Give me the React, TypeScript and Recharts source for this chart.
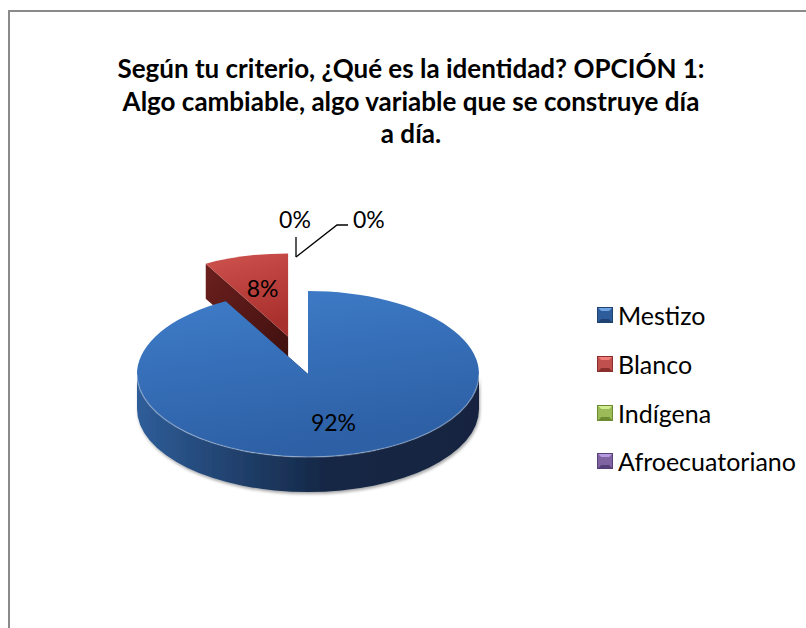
import { PieChart, Pie, Cell, Legend } from 'recharts';

const categories = ['Mestizo', 'Blanco', 'Indígena', 'Afroecuatoriano'];
const shares = [92, 8, 0, 0];
const titleLines = [
  'Según tu criterio, ¿Qué es la identidad? OPCIÓN 1:',
  'Algo cambiable, algo variable que se construye día',
  'a día.',
];

// office 2007 colours, top face / wall / cut face / legend marker
const palette = [
  { base: '#3b72bc', top1: '#3f7dca', top2: '#2d60a5', side1: '#2f5d99', side2: '#132440', cut1: '#264a7c', cut2: '#142745', mk1: '#6fa3e2', mk2: '#2d5c9a', mk3: '#1f4270' },
  { base: '#c0504d', top1: '#cf524e', top2: '#a8302d', side1: '#8a2a27', side2: '#3e0f0e', cut1: '#6c201e', cut2: '#3c0f0e', mk1: '#f07d79', mk2: '#c0504d', mk3: '#8a2f2c' },
  { base: '#9bbb59', top1: '#a6c866', top2: '#84a444', side1: '#6f8a39', side2: '#39481c', cut1: '#5d7530', cut2: '#34421a', mk1: '#d2ec92', mk2: '#9bbb59', mk3: '#6c8a30' },
  { base: '#8064a2', top1: '#8d71b0', top2: '#6a4e8c', side1: '#5c4679', side2: '#2c2140', cut1: '#4d3a66', cut2: '#2a1f3c', mk1: '#b79be0', mk2: '#8064a2', mk3: '#57407a' },
];

// drawn back to front: the small exploded slice goes first so Mestizo covers it
const data = categories.map((name, i) => ({ name, value: shares[i], idx: i })).reverse();

const CX = 308;
const CY = 374;
const R = 171;
const TILT = 83 / 171;
const DEPTH = 35;
const EXPLODED = 1; // Blanco
const EXPLODE_PX = 80;
const RAD = Math.PI / 180;
const FONT = 'Lato, "Open Sans", sans-serif';

function Slice3D(props: any) {
  const { cx, cy, outerRadius, startAngle, endAngle, midAngle } = props;
  const idx = props.payload?.idx ?? props.idx ?? 0;
  const hi = Math.max(startAngle, endAngle);
  const lo = Math.min(startAngle, endAngle);
  if (hi - lo < 0.01) return <g />;
  const rx = outerRadius;
  const ry = outerRadius * TILT;
  const off = idx === EXPLODED ? EXPLODE_PX : 0;
  const ox = cx + off * Math.cos(midAngle * RAD);
  const oy = cy - off * TILT * Math.sin(midAngle * RAD);
  const p = (a: number) => [ox + rx * Math.cos(a * RAD), oy - ry * Math.sin(a * RAD)];

  const [sx, sy] = p(hi);
  const [ex, ey] = p(lo);
  const top = `M${ox},${oy} L${sx},${sy} A${rx},${ry} 0 ${hi - lo > 180 ? 1 : 0} 1 ${ex},${ey} Z`;

  const walls: string[] = [];
  const rims: string[] = [];
  for (let k = -2; k <= 2; k++) {
    const a1 = Math.min(hi, 360 * k);
    const a2 = Math.max(lo, 360 * k - 180);
    if (a1 - a2 > 0.01) {
      const [x1, y1] = p(a1);
      const [x2, y2] = p(a2);
      walls.push(
        `M${x1},${y1} A${rx},${ry} 0 0 1 ${x2},${y2} L${x2},${y2 + DEPTH} A${rx},${ry} 0 0 0 ${x1},${y1 + DEPTH} Z`
      );
      rims.push(`M${x1},${y1} A${rx},${ry} 0 0 1 ${x2},${y2}`);
    }
  }
  const cut = (a: number) => {
    const [x, y] = p(a);
    return `M${ox},${oy} L${x},${y} L${x},${y + DEPTH} L${ox},${oy + DEPTH} Z`;
  };

  return (
    <g>
      <path d={cut(hi)} fill={`url(#cut-${idx})`} />
      <path d={cut(lo)} fill={`url(#cut-${idx})`} />
      {walls.map((d, i) => (
        <path key={i} d={d} fill={`url(#side-${idx})`} filter="url(#wallShadow)" />
      ))}
      <path d={top} fill={`url(#top-${idx})`} />
      {rims.map((d, i) => (
        <path key={i} d={d} fill="none" stroke="rgba(255,255,255,0.28)" strokeWidth={1.5} />
      ))}
    </g>
  );
}

// offsets of the two 0% callouts from the slice anchor at 12 o'clock
const zeroCallouts = [
  { line: [[-12, -34], [-12, -54]], text: [-13, -72], anchor: 'middle' },
  { line: [[-12, -34], [29, -66], [40, -66]], text: [45, -72], anchor: 'start' },
];

function SliceLabel(props: any) {
  const { cx, cy, midAngle, outerRadius, percent, index } = props;
  const idx = props.payload?.idx ?? 0;
  const rx = outerRadius;
  const ry = outerRadius * TILT;
  const txt = `${Math.round(percent * 100)}%`;
  if (percent === 0) {
    const ax = cx + rx * Math.cos(midAngle * RAD);
    const ay = cy - ry * Math.sin(midAngle * RAD);
    const c = zeroCallouts[index % 2];
    const pts = c.line.map(([dx, dy]) => `${ax + dx},${ay + dy}`).join(' ');
    return (
      <g>
        <polyline points={pts} fill="none" stroke="#000" strokeWidth={1.3} />
        <text x={ax + c.text[0]} y={ay + c.text[1]} textAnchor={c.anchor as any} dominantBaseline="central"
          fontFamily={FONT} fontSize={23} fill="#000">{txt}</text>
      </g>
    );
  }
  const off = idx === EXPLODED ? EXPLODE_PX : 0;
  const ox = cx + off * Math.cos(midAngle * RAD);
  const oy = cy - off * TILT * Math.sin(midAngle * RAD);
  const x = ox + 0.6 * rx * Math.cos(midAngle * RAD);
  const y = oy - 0.6 * ry * Math.sin(midAngle * RAD);
  return (
    <text x={x} y={y} textAnchor="middle" dominantBaseline="central" fontFamily={FONT} fontSize={23} fill="#000">
      {txt}
    </text>
  );
}

function Marker({ c }: { c: (typeof palette)[number] }) {
  return (
    <svg width={16} height={16} style={{ display: 'block' }}>
      <rect x={0} y={0} width={16} height={16} fill={c.mk2} />
      <polygon points="0,0 16,0 12,4 4,4" fill={c.mk1} />
      <polygon points="0,16 16,16 12,12 4,12" fill={c.mk3} />
      <polygon points="0,0 4,4 4,12 0,16" fill={c.mk2} opacity={0.9} />
      <rect x={0.5} y={0.5} width={15} height={15} fill="none" stroke={c.mk3} strokeWidth={1} />
    </svg>
  );
}

function LegendBox({ payload }: any) {
  const items = payload && payload.length
    ? [...payload].map((e: any) => e.value).sort((a: string, b: string) => categories.indexOf(a) - categories.indexOf(b))
    : categories;
  return (
    <div>
      {items.map((name: string) => {
        const i = categories.indexOf(name);
        return (
          <div key={name} style={{ height: 48.7, display: 'flex', alignItems: 'center' }}>
            <Marker c={palette[i]} />
            <span style={{ marginLeft: 5, fontFamily: FONT, fontSize: 25, color: '#000', whiteSpace: 'nowrap' }}>{name}</span>
          </div>
        );
      })}
    </div>
  );
}

export default function App() {
  return (
    <div style={{ position: 'fixed', left: 0, top: 0, background: '#fff' }}>
      <PieChart width={806} height={628} margin={{ top: 0, right: 0, bottom: 0, left: 0 }}>
        <defs>
          {palette.map((c, i) => (
            <g key={i}>
              <linearGradient id={`top-${i}`} x1="0" y1="0" x2="0.3" y2="1">
                <stop offset="0%" stopColor={c.top1} />
                <stop offset="100%" stopColor={c.top2} />
              </linearGradient>
              <linearGradient id={`side-${i}`} x1="0" y1="0" x2="1" y2="0">
                <stop offset="0%" stopColor={c.side1} />
                <stop offset="55%" stopColor={c.cut2} />
                <stop offset="100%" stopColor={c.side2} />
              </linearGradient>
              <linearGradient id={`cut-${i}`} x1="0" y1="0" x2="1" y2="1">
                <stop offset="0%" stopColor={c.cut1} />
                <stop offset="100%" stopColor={c.cut2} />
              </linearGradient>
            </g>
          ))}
          <filter id="wallShadow" x="-10%" y="-10%" width="120%" height="140%">
            <feDropShadow dx={1} dy={2} stdDeviation={1.5} floodColor="#000" floodOpacity={0.35} />
          </filter>
        </defs>
        <rect x={9} y={11} width={900} height={700} fill="none" stroke="#8a8a8a" strokeWidth={2} />
        {titleLines.map((line, i) => (
          <text key={i} x={411} y={78 + i * 32.5} textAnchor="middle" fontFamily={FONT} fontWeight={700}
            fontSize={26} fill="#000">
            {line}
          </text>
        ))}
        <Pie
          data={data}
          dataKey="value"
          nameKey="name"
          cx={CX}
          cy={CY}
          outerRadius={R}
          startAngle={90}
          endAngle={450}
          stroke="none"
          shape={Slice3D}
          activeShape={Slice3D}
          inactiveShape={Slice3D}
          label={SliceLabel}
          labelLine={false}
          isAnimationActive={false}
        >
          {data.map((d) => (
            <Cell key={d.name} fill={palette[d.idx].base} />
          ))}
        </Pie>
        <Legend
          layout="vertical"
          align="right"
          verticalAlign="top"
          content={LegendBox}
          wrapperStyle={{ position: 'absolute', left: 597, top: 291, width: 200 }}
        />
      </PieChart>
    </div>
  );
}
